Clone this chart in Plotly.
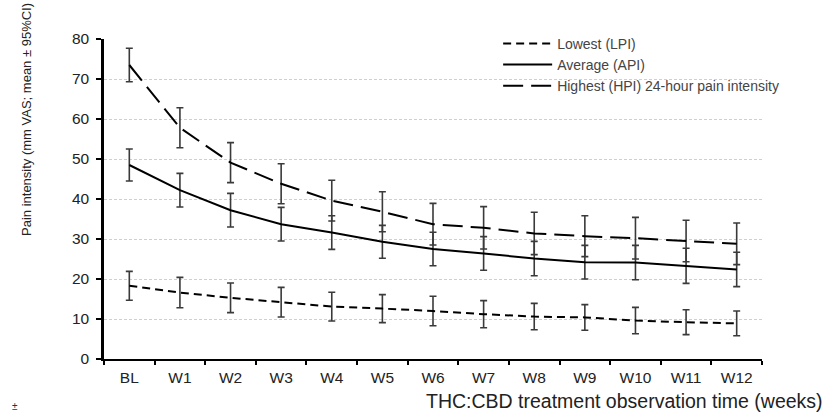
import plotly.graph_objects as go

weeks = ["BL", "W1", "W2", "W3", "W4", "W5", "W6", "W7", "W8", "W9", "W10", "W11", "W12"]

lpi_mean = [18.3, 16.6, 15.3, 14.2, 13.1, 12.6, 12.0, 11.2, 10.6, 10.4, 9.6, 9.2, 8.9]
lpi_ci = [3.6, 3.8, 3.7, 3.7, 3.6, 3.5, 3.7, 3.4, 3.3, 3.2, 3.3, 3.1, 3.1]

api_mean = [48.5, 42.2, 37.2, 33.7, 31.6, 29.3, 27.5, 26.4, 25.1, 24.2, 24.1, 23.3, 22.4]
api_ci = [4.0, 4.2, 4.2, 4.2, 4.2, 4.1, 4.2, 4.2, 4.3, 4.2, 4.3, 4.4, 4.3]

hpi_mean = [73.5, 57.8, 49.1, 43.8, 39.6, 36.8, 33.7, 32.8, 31.4, 30.7, 30.2, 29.5, 28.8]
hpi_ci = [4.2, 5.0, 5.0, 5.0, 5.1, 5.0, 5.2, 5.3, 5.3, 5.1, 5.2, 5.2, 5.2]

series_names = ["Lowest (LPI)", "Average (API)", "Highest (HPI) 24-hour pain intensity"]

FONT = "Liberation Sans, Arial, sans-serif"

fig = go.Figure()

def add(name, y, ci, dash):
    fig.add_trace(go.Scatter(
        x=weeks, y=y, name=name, mode="lines",
        line=dict(color="black", width=2, dash=dash),
        error_y=dict(type="data", array=ci, visible=True,
                     color="#3a3a3a", thickness=1.6, width=3.5),
    ))

add(series_names[0], lpi_mean, lpi_ci, "8px,5px")
add(series_names[1], api_mean, api_ci, "solid")
add(series_names[2], hpi_mean, hpi_ci, "20px,8px")

fig.update_layout(
    width=825, height=415,
    margin=dict(l=104, r=63, t=39, b=56),
    paper_bgcolor="white", plot_bgcolor="white",
    font=dict(family=FONT, color="#222", size=15),
    showlegend=True,
    legend=dict(
        x=0.599, y=1.035, xanchor="left", yanchor="top",
        bgcolor="rgba(0,0,0,0)",
        font=dict(family=FONT, size=14, color="#444"),
        itemwidth=49, tracegroupgap=0,
    ),
    xaxis=dict(
        type="category", range=[-0.5, 12.5],
        showline=True, linecolor="black", linewidth=2,
        ticks="outside", tickson="boundaries", ticklen=4, tickwidth=2, tickcolor="black",
        showgrid=False, zeroline=False, ticklabelstandoff=3,
        tickfont=dict(family=FONT, size=15.5, color="#222"),
    ),
    yaxis=dict(
        range=[0, 80], tickvals=[0, 10, 20, 30, 40, 50, 60, 70, 80],
        showline=True, linecolor="black", linewidth=2.5,
        ticks="outside", ticklen=5, tickwidth=2, tickcolor="black",
        showgrid=True, gridcolor="#cfcfcf", gridwidth=1, griddash="3px,2px",
        zeroline=False, ticklabelstandoff=4,
        tickfont=dict(family=FONT, size=15.5, color="#222"),
    ),
    annotations=[
        dict(text="Pain intensity (mm VAS; mean ± 95%CI)", textangle=-90,
             xref="paper", yref="paper", x=-0.117, y=0.747,
             xanchor="center", yanchor="middle", showarrow=False,
             font=dict(family=FONT, size=13, color="#222")),
        dict(text="THC:CBD treatment observation time (weeks)",
             xref="paper", yref="paper", x=1.096, y=-0.131,
             xanchor="right", yanchor="middle", showarrow=False,
             font=dict(family=FONT, size=19.5, color="#222")),
        dict(text="±", xref="paper", yref="paper", x=-0.135, y=-0.173,
             xanchor="center", yanchor="bottom", showarrow=False,
             font=dict(family=FONT, size=10, color="#333")),
    ],
)

fig.write_html("out.html")
